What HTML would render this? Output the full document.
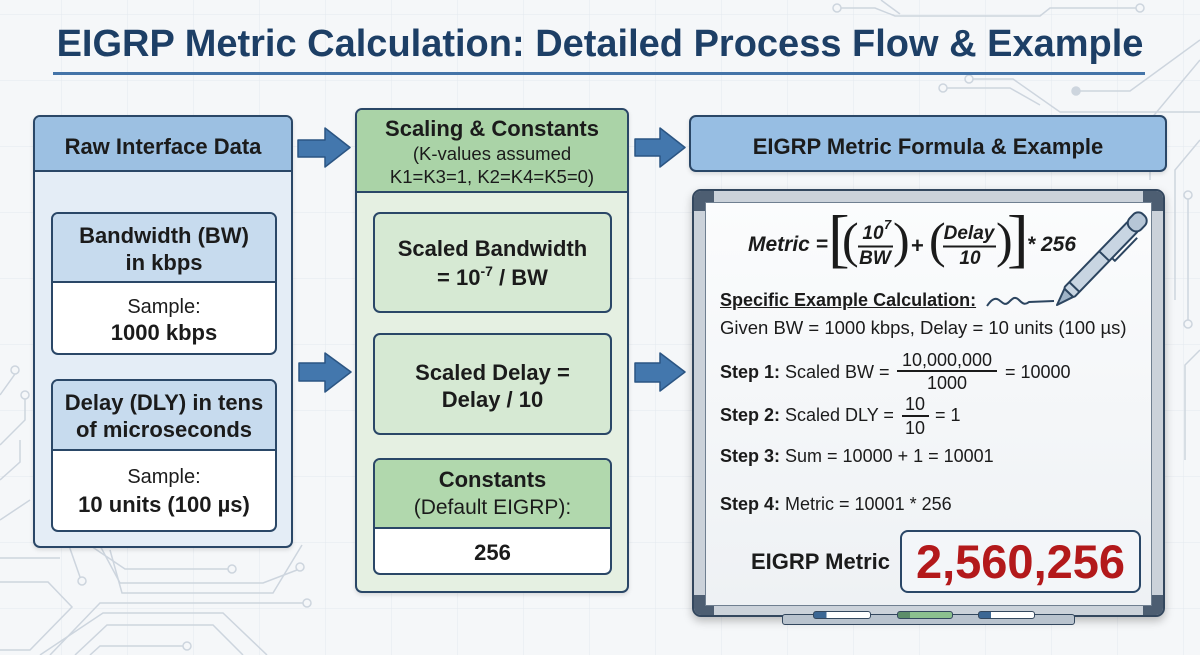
<!DOCTYPE html>
<html><head><meta charset="utf-8">
<style>
*{margin:0;padding:0;box-sizing:border-box}
body{width:1200px;height:655px;overflow:hidden;background:#f5f7f9;font-family:"Liberation Sans",Arial,sans-serif;color:#1b1b1b;position:relative}
.a{position:absolute}
.t{position:absolute;text-align:center;white-space:nowrap}
.l{position:absolute;white-space:nowrap}
.b{font-weight:bold}
.bx{position:absolute;border:2px solid #2a4767;border-radius:7px;overflow:hidden}
</style></head><body>

<svg class="a" style="left:0;top:0" width="1200" height="655">
<defs>
<pattern id="g" width="66" height="66" patternUnits="userSpaceOnUse" x="61" y="14">
<path d="M0 0V66M0 0H66" stroke="#e3e8ee" stroke-width="1" fill="none"/>
</pattern>
</defs>
<rect width="1200" height="655" fill="url(#g)"/>
<g stroke="#cdd5de" stroke-width="1.5" fill="none">
<polyline points="67,540 80,577"/>
<polyline points="82,540 125,569 228,569"/>
<polyline points="97,540 120,583 263,583 297,570"/>
<polyline points="110,550 122,593 273,593 302,545"/>
<polyline points="50,655 100,603 303,603"/>
<polyline points="40,655 103,613 223,613 267,655"/>
<polyline points="75,655 107,625 213,625 243,655"/>
<polyline points="90,655 100,646 183,646"/>
<polyline points="0,582 48,582 72,607 30,650 0,650"/>
<polyline points="0,558 60,558"/>
<polyline points="15,374 0,395"/>
<polyline points="25,399 25,420 0,445"/>
<polyline points="0,480 20,462 20,440"/>
<polyline points="0,520 30,500"/>
<polyline points="841,8 875,8 895,16 1040,16 1050,8 1136,8"/>
<polyline points="881,0 900,14"/>
<polyline points="973,79 1013,79 1060,112 1200,112"/>
<polyline points="947,88 1010,88 1040,105"/>
<polyline points="1080,91 1130,91 1200,40"/>
<polyline points="1200,60 1150,120 1150,180"/>
<polyline points="1200,140 1175,170 1175,300"/>
<polyline points="1188,199 1188,320"/>
<polyline points="1200,350 1185,365 1185,460"/>
<circle cx="82" cy="581" r="4" fill="#f5f7f9"/>
<circle cx="232" cy="569" r="4" fill="#f5f7f9"/>
<circle cx="300" cy="567" r="4" fill="#f5f7f9"/>
<circle cx="307" cy="603" r="4" fill="#f5f7f9"/>
<circle cx="187" cy="646" r="4" fill="#f5f7f9"/>
<circle cx="15" cy="370" r="4" fill="#f5f7f9"/>
<circle cx="25" cy="395" r="4" fill="#f5f7f9"/>
<circle cx="837" cy="8" r="4" fill="#f5f7f9"/>
<circle cx="1140" cy="8" r="4" fill="#f5f7f9"/>
<circle cx="969" cy="79" r="4" fill="#f5f7f9"/>
<circle cx="943" cy="88" r="4" fill="#f5f7f9"/>
<circle cx="1076" cy="91" r="4" fill="#cdd5de"/>
<circle cx="1188" cy="195" r="4" fill="#f5f7f9"/>
<circle cx="1188" cy="324" r="4" fill="#f5f7f9"/>
</g>
<g fill="#4377ad" stroke="#2b5583" stroke-width="1.5" stroke-linejoin="round">
<polygon points="298,140 325,140 325,128 350,147.5 325,167 325,157 298,157"/>
<polygon points="299,363 325,363 325,353 351,372 325,392 325,381 299,381"/>
<polygon points="635,139 660,139 660,128 685,147.5 660,167 660,156 635,156"/>
<polygon points="635,363 660,363 660,353 685,372 660,391 660,382 635,382"/>
</g>
</svg>

<!-- Title -->
<div class="t b" style="left:0;width:1200px;top:22px;line-height:44px;font-size:38px;color:#1d3f66">EIGRP Metric Calculation: Detailed Process Flow &amp; Example</div>
<div class="a" style="left:53px;top:72px;width:1092px;height:3px;background:#4474a8"></div>

<!-- Left panel -->
<div class="bx" style="left:33px;top:115px;width:260px;height:433px;background:#e4edf6;box-shadow:0 2px 4px rgba(0,0,0,.12)">
<div style="height:55px;background:#9cc0e2;border-bottom:2px solid #2a4767"></div>
</div>
<div class="t b" style="left:33px;width:260px;top:133px;line-height:28px;font-size:22px">Raw Interface Data</div>

<div class="bx" style="left:51px;top:212px;width:226px;height:143px;background:#fff">
<div style="height:69px;background:#c7dbee;border-bottom:2px solid #2a4767"></div>
</div>
<div class="t b" style="left:51px;width:226px;top:221.5px;line-height:27px;font-size:22px">Bandwidth (BW)<br>in kbps</div>
<div class="t" style="left:51px;width:226px;top:294px;line-height:26px;font-size:20px">Sample:<br><b style="font-size:22px">1000 kbps</b></div>

<div class="bx" style="left:51px;top:379px;width:226px;height:153px;background:#fff">
<div style="height:70px;background:#c7dbee;border-bottom:2px solid #2a4767"></div>
</div>
<div class="t b" style="left:51px;width:226px;top:388.5px;line-height:27px;font-size:22px">Delay (DLY) in tens<br>of microseconds</div>
<div class="t" style="left:51px;width:226px;top:463px;line-height:28px;font-size:20px">Sample:<br><b style="font-size:22px">10 units (100 µs)</b></div>

<!-- Middle panel -->
<div class="bx" style="left:355px;top:108px;width:274px;height:485px;background:#e5f0e2;box-shadow:0 2px 4px rgba(0,0,0,.12)">
<div style="height:83px;background:#aad3a7;border-bottom:2px solid #2a4767"></div>
</div>
<div class="t b" style="left:355px;width:274px;top:115px;line-height:28px;font-size:22px">Scaling &amp; Constants</div>
<div class="t" style="left:355px;width:274px;top:143px;line-height:22px;font-size:18.5px">(K-values assumed</div>
<div class="t" style="left:355px;width:274px;top:166px;line-height:22px;font-size:18.5px">K1=K3=1, K2=K4=K5=0)</div>

<div class="bx" style="left:373px;top:212px;width:239px;height:101px;background:#d6e9d3"></div>
<div class="t b" style="left:373px;width:239px;top:233.5px;line-height:29px;font-size:22px">Scaled Bandwidth<br>= 10<span style="font-size:14px;position:relative;top:-9px">-7</span> / BW</div>

<div class="bx" style="left:373px;top:333px;width:239px;height:102px;background:#d6e9d3"></div>
<div class="t b" style="left:373px;width:239px;top:358.5px;line-height:27px;font-size:22px">Scaled Delay =<br>Delay / 10</div>

<div class="bx" style="left:373px;top:458px;width:239px;height:117px;background:#fff">
<div style="height:69px;background:#b1d8ad;border-bottom:2px solid #2a4767"></div>
</div>
<div class="t b" style="left:373px;width:239px;top:466px;line-height:28px;font-size:22px">Constants</div>
<div class="t" style="left:373px;width:239px;top:494px;line-height:28px;font-size:21px">(Default EIGRP):</div>
<div class="t b" style="left:373px;width:239px;top:539px;line-height:28px;font-size:22px">256</div>

<!-- Right header -->
<div class="bx" style="left:689px;top:115px;width:478px;height:57px;background:#97bee3;box-shadow:0 2px 4px rgba(0,0,0,.12)"></div>
<div class="t b" style="left:689px;width:478px;top:133px;line-height:28px;font-size:22px">EIGRP Metric Formula &amp; Example</div>

<!-- Whiteboard -->
<div class="a" style="left:692px;top:189px;width:473px;height:428px;background:#cbd2da;border:2px solid #33475e;border-radius:9px;box-shadow:0 4px 9px rgba(0,0,0,.25);overflow:hidden">
<div class="a" style="left:0;top:0;width:20px;height:20px;background:#4d5e72"></div>
<div class="a" style="right:0;top:0;width:20px;height:20px;background:#4d5e72"></div>
<div class="a" style="left:0;bottom:0;width:20px;height:20px;background:#4d5e72"></div>
<div class="a" style="right:0;bottom:0;width:20px;height:20px;background:#4d5e72"></div>
</div>
<div class="a" style="left:705px;top:202px;width:447px;height:404px;background:linear-gradient(180deg,#fbfcfd,#eef1f4);border:1.5px solid #6f7f90"></div>
<div class="a" style="left:782px;top:614px;width:293px;height:11px;background:#b9c3ce;border:1.5px solid #33475e;border-radius:3px"></div>
<div class="a" style="left:813px;top:611px;width:58px;height:8px;background:linear-gradient(90deg,#3c6794 0 22%,#fff 22%);border:1px solid #33475e;border-radius:3px"></div>
<div class="a" style="left:897px;top:611px;width:56px;height:8px;background:linear-gradient(90deg,#5d8d6a 0 22%,#8cc08f 22%);border:1px solid #33475e;border-radius:3px"></div>
<div class="a" style="left:978px;top:611px;width:57px;height:8px;background:linear-gradient(90deg,#3c6794 0 22%,#fff 22%);border:1px solid #33475e;border-radius:3px"></div>

<svg class="a" style="left:0;top:0" width="1200" height="655" font-family="Liberation Sans, Arial, sans-serif" fill="#1b1b1b">
<text x="748" y="251" font-size="21" font-weight="bold" font-style="italic">Metric =</text>
<text x="828" y="260" font-size="65" font-family="Liberation Serif, serif">[</text>
<text x="842" y="257" font-size="50" font-family="Liberation Serif, serif">(</text>
<text x="873" y="239" font-size="19" font-weight="bold" font-style="italic" text-anchor="middle">10</text>
<text x="884" y="229" font-size="13" font-weight="bold" font-style="italic">7</text>
<line x1="858" y1="246.5" x2="893" y2="246.5" stroke="#1b1b1b" stroke-width="2"/>
<text x="875" y="264" font-size="19" font-weight="bold" font-style="italic" text-anchor="middle">BW</text>
<text x="893" y="257" font-size="50" font-family="Liberation Serif, serif">)</text>
<text x="911" y="253" font-size="22" font-weight="bold">+</text>
<text x="929" y="257" font-size="50" font-family="Liberation Serif, serif">(</text>
<text x="969" y="239" font-size="19" font-weight="bold" font-style="italic" text-anchor="middle">Delay</text>
<line x1="943" y1="246.5" x2="996" y2="246.5" stroke="#1b1b1b" stroke-width="2"/>
<text x="970" y="264" font-size="19" font-weight="bold" font-style="italic" text-anchor="middle">10</text>
<text x="996" y="257" font-size="50" font-family="Liberation Serif, serif">)</text>
<text x="1007" y="260" font-size="65" font-family="Liberation Serif, serif">]</text>
<text x="1027" y="251" font-size="21" font-weight="bold" font-style="italic">* 256</text>
<path d="M987,306 c4,-6 8,-9 12,-6 s6,6 10,2 s6,-6 10,-2 s6,5 10,2 l25,-1" fill="none" stroke="#2c4560" stroke-width="2"/>
<g transform="translate(1057,305) rotate(-46)" stroke="#2c4560" stroke-width="2" stroke-linejoin="round">
<polygon points="0,0 17,-6 17,6" fill="#9fb3c7"/>
<rect x="17" y="-7" width="93" height="14" rx="2" fill="#c8d5e2"/>
<line x1="25" y1="-7" x2="25" y2="7"/>
<line x1="68" y1="-7" x2="68" y2="7"/>
<rect x="106" y="-8" width="19" height="16" rx="7" fill="#b6c6d6"/>
<path d="M72,7 L72,11 L104,11" fill="none"/>
</g>
</svg>

<div class="l b" style="left:720px;top:289px;line-height:22px;font-size:18px;text-decoration:underline">Specific Example Calculation:</div>
<div class="l" style="left:720px;top:317px;line-height:22px;font-size:18.5px">Given BW = 1000 kbps, Delay = 10 units (100 µs)</div>

<div class="l" style="left:720px;top:361px;line-height:22px;font-size:18px"><b>Step 1:</b> Scaled BW =</div>
<div class="t" style="left:897px;width:100px;top:350px;line-height:20px;font-size:18px">10,000,000</div>
<div class="a" style="left:897px;top:370px;width:100px;height:1.5px;background:#1b1b1b"></div>
<div class="t" style="left:897px;width:100px;top:373px;line-height:20px;font-size:18px">1000</div>
<div class="l" style="left:1005px;top:361px;line-height:22px;font-size:18px">= 10000</div>

<div class="l" style="left:720px;top:404px;line-height:22px;font-size:18px"><b>Step 2:</b> Scaled DLY =</div>
<div class="t" style="left:900px;width:30px;top:394px;line-height:20px;font-size:18px">10</div>
<div class="a" style="left:902px;top:415px;width:27px;height:1.5px;background:#1b1b1b"></div>
<div class="t" style="left:900px;width:30px;top:418px;line-height:20px;font-size:18px">10</div>
<div class="l" style="left:935px;top:404px;line-height:22px;font-size:18px">= 1</div>

<div class="l" style="left:720px;top:445px;line-height:22px;font-size:18px"><b>Step 3:</b> Sum = 10000 + 1 = 10001</div>
<div class="l" style="left:720px;top:493px;line-height:22px;font-size:18px"><b>Step 4:</b> Metric = 10001 * 256</div>

<div class="l b" style="left:751px;top:548px;line-height:28px;font-size:22px">EIGRP Metric</div>
<div class="a" style="left:900px;top:530px;width:241px;height:63px;border:2px solid #2a4767;border-radius:8px;background:#f3f6f9"></div>
<div class="t b" style="left:900px;width:241px;top:532px;line-height:59px;font-size:47px;color:#b3191b">2,560,256</div>

</body></html>
